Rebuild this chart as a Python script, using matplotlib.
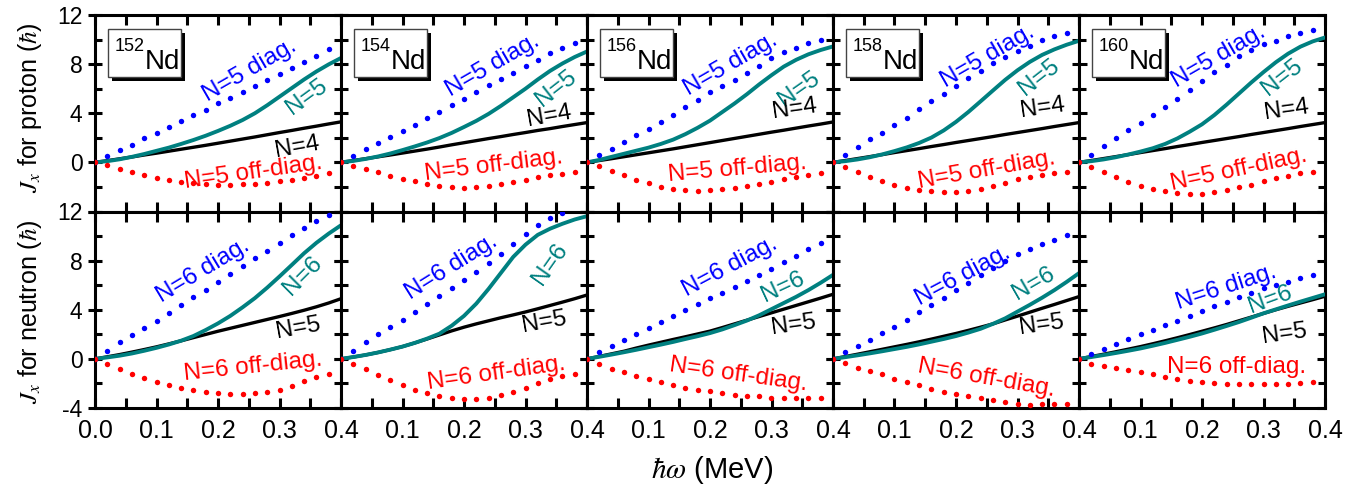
import matplotlib
matplotlib.use("Agg")
import matplotlib.pyplot as plt
from matplotlib.patches import Rectangle
from matplotlib.ticker import MultipleLocator, FuncFormatter

plt.rcParams["font.family"] = ["Liberation Sans", "DejaVu Sans"]
plt.rcParams["mathtext.fontset"] = "stix"

nuclei = ["152", "154", "156", "158", "160"]

# rotational frequency grid (MeV); dotted series stop at 0.38
hw = [0.00, 0.02, 0.04, 0.06, 0.08, 0.10, 0.12, 0.14, 0.16, 0.18, 0.20,
      0.22, 0.24, 0.26, 0.28, 0.30, 0.32, 0.34, 0.36, 0.38, 0.40]
hw_dot = hw[:20]

# proton, N=5 diagonal part
p_diag = [
    [0, 0.5, 1.0, 1.45, 1.95, 2.42, 2.9, 3.35, 3.85, 4.3, 4.8, 5.25, 5.75, 6.2, 6.7, 7.2, 7.7, 8.2, 8.7, 9.2],
    [0, 0.54, 1.05, 1.56, 2.06, 2.56, 3.07, 3.59, 4.1, 4.64, 5.18, 5.72, 6.26, 6.8, 7.31, 7.82, 8.36, 8.9, 9.3, 9.7],
    [0, 0.58, 1.12, 1.66, 2.2, 2.75, 3.3, 3.88, 4.47, 5.1, 5.72, 6.22, 6.72, 7.25, 7.88, 8.5, 9.0, 9.35, 9.7, 10.0],
    [0, 0.62, 1.29, 1.94, 2.43, 3.02, 3.64, 4.31, 4.99, 5.53, 6.2, 6.88, 7.47, 8.09, 8.6, 9.03, 9.5, 9.95, 10.25, 10.57],
    [0, 0.62, 1.35, 2.02, 2.64, 3.24, 3.83, 4.53, 5.18, 5.93, 6.6, 7.34, 7.96, 8.63, 9.17, 9.6, 9.9, 10.25, 10.5, 10.8],
]
# proton, N=5 off-diagonal part
p_off = [
    [0, -0.2, -0.5, -0.8, -1.05, -1.28, -1.45, -1.58, -1.68, -1.76, -1.82, -1.83, -1.8, -1.74, -1.66, -1.55, -1.42, -1.27, -1.1, -0.9],
    [0, -0.27, -0.54, -0.81, -1.08, -1.35, -1.55, -1.75, -1.9, -2.02, -2.08, -2.02, -1.9, -1.78, -1.6, -1.42, -1.22, -1.05, -0.92, -0.82],
    [0, -0.3, -0.68, -1.05, -1.42, -1.72, -1.98, -2.16, -2.28, -2.32, -2.28, -2.18, -2.05, -1.9, -1.74, -1.56, -1.36, -1.17, -1.0, -0.86],
    [0, -0.4, -0.81, -1.21, -1.54, -1.81, -2.08, -2.27, -2.37, -2.43, -2.43, -2.3, -2.16, -1.94, -1.65, -1.38, -1.16, -1.0, -0.88, -0.81],
    [0, -0.4, -0.81, -1.21, -1.56, -1.89, -2.16, -2.37, -2.51, -2.56, -2.56, -2.43, -2.29, -2.02, -1.81, -1.54, -1.3, -1.08, -0.89, -0.81],
]
# proton, N=5 shell total
p_n5 = [
    [0, 0.1, 0.25, 0.45, 0.68, 0.94, 1.2, 1.5, 1.82, 2.17, 2.56, 2.98, 3.45, 4.0, 4.65, 5.35, 6.05, 6.75, 7.4, 7.98, 8.5],
    [0, 0.12, 0.28, 0.48, 0.72, 1.0, 1.3, 1.62, 1.98, 2.4, 2.88, 3.38, 3.95, 4.6, 5.3, 6.0, 6.75, 7.45, 8.05, 8.58, 9.03],
    [0, 0.2, 0.45, 0.7, 0.95, 1.2, 1.5, 1.85, 2.3, 2.82, 3.4, 4.1, 4.8, 5.55, 6.35, 7.1, 7.8, 8.35, 8.8, 9.15, 9.44],
    [0, 0.1, 0.24, 0.42, 0.65, 0.92, 1.22, 1.58, 2.02, 2.6, 3.3, 4.1, 4.97, 5.85, 6.72, 7.5, 8.18, 8.75, 9.2, 9.58, 9.9],
    [0, 0.1, 0.24, 0.42, 0.64, 0.88, 1.15, 1.5, 1.95, 2.5, 3.1, 3.85, 4.7, 5.6, 6.5, 7.35, 8.15, 8.85, 9.42, 9.85, 10.17],
]
# proton, N=4 shell total
p_n4 = [
    [0, 0.14, 0.29, 0.44, 0.6, 0.75, 0.91, 1.07, 1.23, 1.39, 1.56, 1.73, 1.9, 2.07, 2.25, 2.43, 2.6, 2.78, 2.95, 3.13, 3.3],
    [0, 0.15, 0.3, 0.45, 0.6, 0.76, 0.92, 1.08, 1.25, 1.43, 1.6, 1.77, 1.94, 2.1, 2.27, 2.43, 2.6, 2.75, 2.92, 3.08, 3.24],
    [0, 0.15, 0.3, 0.46, 0.62, 0.78, 0.94, 1.1, 1.27, 1.44, 1.61, 1.78, 1.95, 2.12, 2.29, 2.46, 2.62, 2.79, 2.96, 3.12, 3.29],
    [0, 0.15, 0.31, 0.47, 0.63, 0.8, 0.96, 1.12, 1.29, 1.45, 1.62, 1.78, 1.94, 2.1, 2.27, 2.43, 2.59, 2.75, 2.92, 3.08, 3.24],
    [0, 0.15, 0.31, 0.47, 0.63, 0.8, 0.96, 1.12, 1.29, 1.45, 1.62, 1.78, 1.94, 2.1, 2.27, 2.43, 2.59, 2.75, 2.92, 3.08, 3.24],
]

# neutron, N=6 diagonal part
n_diag = [
    [0, 0.65, 1.34, 1.94, 2.48, 3.08, 3.71, 4.39, 5.07, 5.62, 6.22, 6.93, 7.58, 8.21, 8.81, 9.44, 10.12, 10.66, 11.26, 11.75],
    [0, 0.65, 1.34, 2.0, 2.6, 3.2, 3.85, 4.45, 5.1, 5.75, 6.4, 7.1, 7.8, 8.5, 9.35, 10.17, 10.88, 11.48, 11.9, 12.4],
    [0, 0.55, 1.05, 1.55, 2.05, 2.53, 3.0, 3.48, 3.96, 4.45, 4.93, 5.4, 5.88, 6.36, 6.85, 7.35, 7.88, 8.4, 8.92, 9.45],
    [0, 0.55, 1.02, 1.53, 2.07, 2.62, 3.18, 3.78, 4.36, 4.96, 5.58, 6.18, 6.8, 7.4, 7.98, 8.5, 8.95, 9.35, 9.72, 10.06],
    [0, 0.38, 0.79, 1.2, 1.58, 1.99, 2.35, 2.75, 3.11, 3.52, 3.93, 4.31, 4.66, 5.07, 5.4, 5.75, 6.03, 6.3, 6.57, 6.84],
]
# neutron, N=6 off-diagonal part
n_off = [
    [0, -0.38, -0.79, -1.2, -1.55, -1.88, -2.15, -2.35, -2.52, -2.66, -2.76, -2.82, -2.84, -2.8, -2.7, -2.51, -2.2, -1.82, -1.5, -1.25],
    [0, -0.42, -0.85, -1.3, -1.75, -2.15, -2.5, -2.8, -3.03, -3.18, -3.27, -3.25, -3.16, -2.98, -2.72, -2.38, -2.0, -1.65, -1.38, -1.2],
    [0, -0.38, -0.79, -1.06, -1.39, -1.66, -1.88, -2.15, -2.37, -2.51, -2.62, -2.78, -2.92, -3.03, -3.05, -3.15, -3.17, -3.19, -3.17, -3.16],
    [0, -0.3, -0.71, -0.98, -1.25, -1.61, -1.88, -2.15, -2.48, -2.7, -2.89, -3.03, -3.16, -3.38, -3.52, -3.71, -3.74, -3.71, -3.65, -3.65],
    [0, -0.44, -0.57, -0.71, -0.87, -1.06, -1.25, -1.47, -1.61, -1.8, -1.88, -1.96, -2.02, -2.02, -2.07, -2.07, -2.02, -2.02, -1.96, -1.88],
]
# neutron, N=6 shell total
n_n6 = [
    [0, 0.12, 0.26, 0.44, 0.66, 0.9, 1.17, 1.48, 1.86, 2.35, 2.89, 3.5, 4.2, 4.95, 5.8, 6.71, 7.65, 8.6, 9.45, 10.2, 10.88],
    [0, 0.15, 0.32, 0.52, 0.75, 1.0, 1.3, 1.65, 2.05, 2.7, 3.5, 4.5, 5.7, 7.0, 8.3, 9.3, 10.1, 10.6, 11.0, 11.35, 11.62],
    [0, 0.17, 0.35, 0.54, 0.74, 0.95, 1.16, 1.38, 1.62, 1.85, 2.1, 2.4, 2.75, 3.12, 3.55, 4.05, 4.55, 5.05, 5.6, 6.2, 6.84],
    [0, 0.14, 0.29, 0.45, 0.62, 0.8, 0.98, 1.18, 1.4, 1.62, 1.86, 2.14, 2.45, 2.85, 3.3, 3.85, 4.4, 4.98, 5.6, 6.27, 6.98],
    [0, 0.15, 0.31, 0.48, 0.66, 0.85, 1.07, 1.3, 1.55, 1.8, 2.07, 2.37, 2.68, 3.0, 3.35, 3.71, 4.03, 4.35, 4.66, 4.96, 5.26],
]
# neutron, N=5 shell total
n_n5 = [
    [0, 0.17, 0.35, 0.55, 0.76, 0.98, 1.22, 1.47, 1.73, 1.99, 2.25, 2.49, 2.73, 2.97, 3.21, 3.45, 3.7, 3.96, 4.24, 4.55, 4.9],
    [0, 0.15, 0.32, 0.52, 0.75, 1.0, 1.3, 1.62, 1.95, 2.28, 2.58, 2.85, 3.1, 3.35, 3.58, 3.82, 4.08, 4.35, 4.62, 4.9, 5.2],
    [0, 0.2, 0.41, 0.62, 0.88, 1.12, 1.35, 1.58, 1.8, 2.03, 2.26, 2.55, 2.85, 3.15, 3.45, 3.75, 4.05, 4.35, 4.65, 4.95, 5.26],
    [0, 0.19, 0.38, 0.58, 0.78, 0.98, 1.18, 1.39, 1.61, 1.84, 2.07, 2.32, 2.58, 2.85, 3.17, 3.48, 3.8, 4.12, 4.43, 4.75, 5.07],
    [0, 0.19, 0.38, 0.58, 0.79, 1.0, 1.23, 1.47, 1.72, 1.98, 2.25, 2.52, 2.8, 3.1, 3.4, 3.7, 4.0, 4.28, 4.55, 4.82, 5.1],
]

# label placement (x, y, angle) for: diag, total N, other N, off-diag
top_labels = [
    [(0.252, 7.5, 30), (0.345, 5.3, 36), (0.328, 1.25, 10), (0.257, -0.8, 8)],
    [(0.247, 7.9, 30), (0.350, 6.0, 38), (0.339, 3.8, 10), (0.249, -0.3, 7)],
    [(0.233, 8.0, 30), (0.345, 6.0, 35), (0.337, 4.35, 8), (0.245, -0.55, 5)],
    [(0.251, 8.6, 30), (0.335, 6.9, 38), (0.341, 4.4, 8), (0.249, -0.6, 10)],
    [(0.227, 8.6, 30), (0.330, 6.9, 38), (0.338, 4.25, 8), (0.260, -0.6, 12)],
]
bottom_labels = [
    [(0.175, 7.2, 31), (0.338, 6.8, 45), (0.331, 2.5, 10), (0.257, -0.65, 6)],
    [(0.179, 7.5, 32), (0.340, 7.7, 55), (0.331, 3.0, 10), (0.252, -1.2, 8)],
    [(0.232, 7.5, 28), (0.319, 5.85, 25), (0.336, 2.76, 8), (0.246, -1.33, -8)],
    [(0.212, 6.8, 28), (0.326, 6.1, 30), (0.339, 2.76, 8), (0.250, -1.6, -10)],
    [(0.239, 5.85, 18), (0.310, 4.85, 20), (0.334, 2.07, 8), (0.256, -0.65, 0)],
]

TEAL = "#008080"
FS_LAB = 17.5

fig, axes = plt.subplots(2, 5, figsize=(13.65, 4.92), dpi=100)
fig.subplots_adjust(left=95 / 1365, right=1325 / 1365, top=1 - 15 / 492, bottom=1 - 408 / 492,
                    wspace=0, hspace=0)


def draw_panel(ax, diag, off, total, other, labels, n_tot, n_oth):
    ax.plot(hw, other, color="black", lw=2.4, zorder=3)
    ax.plot(hw, total, color=TEAL, lw=2.8, zorder=4)
    ax.plot(hw_dot, diag, ls="none", marker="o", ms=3.9, mew=0, color="blue", zorder=5)
    ax.plot(hw_dot, off, ls="none", marker="o", ms=3.9, mew=0, color="red", zorder=5)

    texts = [(f"N={n_tot} diag.", "blue"), (f"N={n_tot}", TEAL),
             (f"N={n_oth}", "black"), (f"N={n_tot} off-diag.", "red")]
    for (txt, col), (x, y, ang) in zip(texts, labels):
        ax.text(x, y, txt, color=col, fontsize=FS_LAB, rotation=ang,
                rotation_mode="anchor", ha="center", va="center", zorder=6)


def nucleus_box(ax, mass):
    x0, y0, w, h = 0.053, 0.684, 0.297, 0.245
    ax.add_patch(Rectangle((x0 + 0.016, y0 - 0.02), w, h, transform=ax.transAxes,
                           facecolor="black", edgecolor="none", zorder=7))
    ax.add_patch(Rectangle((x0, y0), w, h, transform=ax.transAxes,
                           facecolor="white", edgecolor="#444444", lw=1.0, zorder=8))
    xm = x0 + 0.148
    ax.text(xm, y0 + 0.04, "Nd", transform=ax.transAxes, fontsize=20,
            ha="left", va="baseline", zorder=9)
    ax.text(xm, y0 + 0.2, mass, transform=ax.transAxes, fontsize=13,
            ha="right", va="top", zorder=9)


for i, mass in enumerate(nuclei):
    draw_panel(axes[0, i], p_diag[i], p_off[i], p_n5[i], p_n4[i], top_labels[i], 5, 4)
    draw_panel(axes[1, i], n_diag[i], n_off[i], n_n6[i], n_n5[i], bottom_labels[i], 6, 5)
    nucleus_box(axes[0, i], mass)

for r in range(2):
    for c in range(5):
        ax = axes[r, c]
        ax.set_xlim(0, 0.4)
        ax.set_ylim(-4, 12)
        ax.xaxis.set_major_locator(MultipleLocator(0.1))
        ax.xaxis.set_minor_locator(MultipleLocator(0.05))
        ax.yaxis.set_major_locator(MultipleLocator(4))
        ax.yaxis.set_minor_locator(MultipleLocator(2))
        for sp in ax.spines.values():
            sp.set_linewidth(2.2)
        ax.tick_params(axis="x", which="both", direction="in", top=True, bottom=True,
                       length=7, width=2.2, labelsize=18, pad=8)
        ydir = "inout" if c < 4 else "in"
        ax.tick_params(axis="y", which="major", direction=ydir, left=True, right=True,
                       length=10 if c < 4 else 5.5, width=2.2, labelsize=16.5, pad=4)
        ax.tick_params(axis="y", which="minor", direction="in", left=True, right=True,
                       length=5, width=2.2)

        # tick labels only on the outer edges; 0.0 is shown on the first panel only
        if r == 1:
            if c == 0:
                ax.xaxis.set_major_formatter(FuncFormatter(lambda v, p: f"{v:.1f}"))
            else:
                ax.xaxis.set_major_formatter(
                    FuncFormatter(lambda v, p: "" if abs(v) < 1e-9 else f"{v:.1f}"))
        else:
            ax.tick_params(axis="x", labelbottom=False)
        if c == 0:
            if r == 0:
                ax.yaxis.set_major_formatter(
                    FuncFormatter(lambda v, p: "" if v < -1 else f"{v:.0f}"))
            else:
                ax.yaxis.set_major_formatter(FuncFormatter(lambda v, p: f"{v:.0f}"))
        else:
            ax.tick_params(axis="y", labelleft=False)

fig.text(30 / 1365, 1 - 108 / 492, r"$J_{x}$ for proton ($\hbar$)", rotation=90,
         ha="center", va="center", fontsize=18)
fig.text(30 / 1365, 1 - 312 / 492, r"$J_{x}$ for neutron ($\hbar$)", rotation=90,
         ha="center", va="center", fontsize=18)
fig.text(712 / 1365, 1 - 470 / 492, r"$\hbar\omega$ (MeV)", ha="center", va="center",
         fontsize=21)

fig.savefig("out.png", dpi=100)
